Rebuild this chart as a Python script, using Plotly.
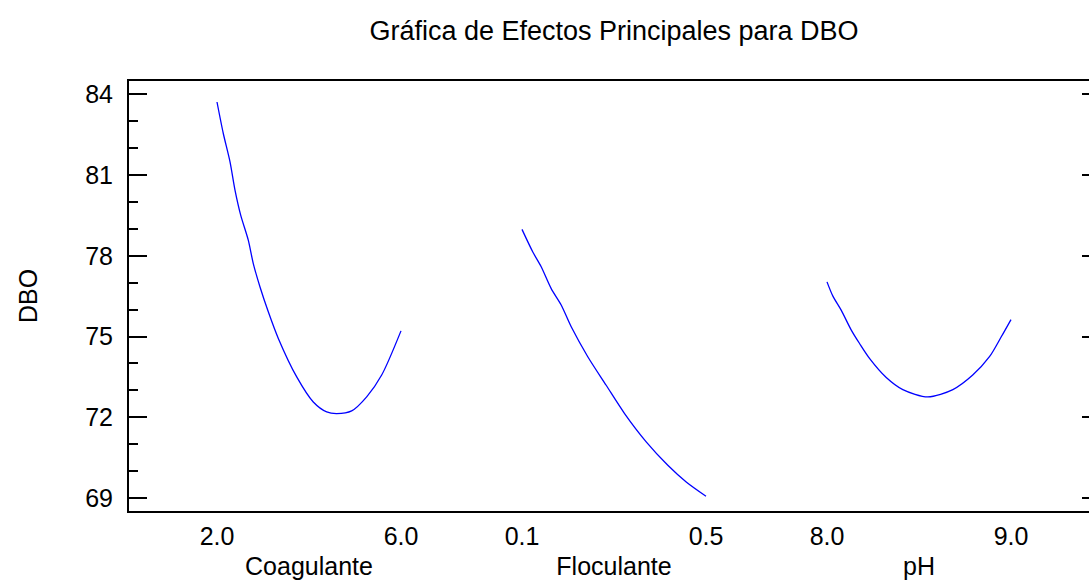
import plotly.graph_objects as go

# ---------------- data ----------------
factor_names = ["Coagulante", "Floculante", "pH"]
factor_ranges = [(2.0, 6.0), (0.1, 0.5), (8.0, 9.0)]
factor_tickvals = [[2.0, 6.0], [0.1, 0.5], [8.0, 9.0]]
factor_ticktext = [["2.0", "6.0"], ["0.1", "0.5"], ["8.0", "9.0"]]

coag_x = [2.0, 2.137, 2.283, 2.391, 2.515, 2.680, 2.789, 2.935, 3.115, 3.333,
          3.733, 4.093, 4.385, 4.602, 4.928, 5.254, 5.580, 6.0]
coag_y = [83.71, 82.54, 81.49, 80.44, 79.51, 78.58, 77.71, 76.84, 75.92, 74.93,
          73.50, 72.57, 72.20, 72.14, 72.24, 72.76, 73.57, 75.21]

floc_x = [0.10, 0.1235, 0.1417, 0.1635, 0.1852, 0.207, 0.243, 0.283, 0.323,
          0.370, 0.417, 0.457, 0.50]
floc_y = [78.98, 78.14, 77.59, 76.78, 76.17, 75.36, 74.25, 73.19, 72.14,
          71.09, 70.22, 69.60, 69.07]

ph_x = [8.0, 8.032, 8.077, 8.132, 8.177, 8.231, 8.322, 8.412, 8.548, 8.684,
        8.792, 8.883, 8.947, 9.0]
ph_y = [77.03, 76.50, 75.98, 75.24, 74.74, 74.19, 73.48, 73.03, 72.76, 73.03,
        73.57, 74.25, 74.99, 75.63]

y_ticks = [69, 72, 75, 78, 81, 84]
y_range = [68.52, 84.49]

title_text = "Gráfica de Efectos Principales para DBO"
y_title = "DBO"

series_x = [coag_x, floc_x, ph_x]
series_y = [coag_y, floc_y, ph_y]

# ---------------- layout geometry ----------------
W, H = 1089, 580
ML, MR, MT, MB = 129, 0, 81, 69
plot_w = W - ML - MR
seg_px = [(217, 401), (522, 706), (827, 1011)]
pad = 30

FONT = "Liberation Sans, Arial, sans-serif"
FS = 25

fig = go.Figure()

# dummy traces so that frame axes get drawn
fig.add_trace(go.Scatter(x=[None], y=[None], xaxis="x", yaxis="y",
                         showlegend=False, hoverinfo="skip"))
fig.add_trace(go.Scatter(x=[None], y=[None], xaxis="x", yaxis="y2",
                         showlegend=False, hoverinfo="skip"))

layout = dict(
    width=W, height=H,
    margin=dict(l=ML, r=MR, t=MT, b=MB, pad=0),
    paper_bgcolor="white", plot_bgcolor="white",
    showlegend=False,
    font=dict(family=FONT, size=FS, color="black"),
    title=dict(text=title_text, x=614 / W, xanchor="center", xref="container",
               y=1 - 31 / H, yanchor="middle", yref="container",
               font=dict(family=FONT, size=27, color="black")),
    xaxis=dict(domain=[0, 1], range=[0, 1], showline=True, mirror=True,
               linecolor="black", linewidth=2, showticklabels=False,
               ticks="", showgrid=False, zeroline=False, anchor="y",
               fixedrange=True),
    yaxis=dict(domain=[0, 1], range=y_range, tickvals=y_ticks,
               ticks="inside", ticklen=18, tickwidth=1.5, tickcolor="black",
               minor=dict(dtick=1, tick0=69, ticks="inside", ticklen=9,
                          tickwidth=1.5, tickcolor="black", showgrid=False),
               showline=True, linecolor="black", linewidth=2, mirror=False,
               showgrid=False, zeroline=False, ticklabelstandoff=9,
               tickfont=dict(family=FONT, size=FS, color="black"),
               title=dict(text=y_title, standoff=40,
                          font=dict(family=FONT, size=FS, color="black")),
               anchor="x"),
    yaxis2=dict(overlaying="y", side="right", anchor="free", position=1,
                range=y_range, tickvals=y_ticks, ticks="inside", ticklen=7,
                tickwidth=1.5, tickcolor="black", showticklabels=False,
                showline=False, showgrid=False, zeroline=False),
)

for i, (name, (lo, hi), tv, tt, xs, ys) in enumerate(
        zip(factor_names, factor_ranges, factor_tickvals, factor_ticktext,
            series_x, series_y)):
    p0, p1 = seg_px[i]
    d0 = (p0 - pad - ML) / plot_w
    d1 = (p1 + pad - ML) / plot_w
    ext = pad / (p1 - p0) * (hi - lo)
    ax = f"xaxis{i + 2}"
    layout[ax] = dict(domain=[d0, d1], range=[lo - ext, hi + ext],
                      tickvals=tv, ticktext=tt, ticks="", showline=False,
                      showgrid=False, zeroline=False, anchor="y",
                      ticklabelstandoff=8,
                      tickfont=dict(family=FONT, size=FS, color="black"),
                      title=dict(text=name, standoff=9,
                                 font=dict(family=FONT, size=FS, color="black")))
    fig.add_trace(go.Scatter(x=xs, y=ys, mode="lines", xaxis=f"x{i + 2}",
                             yaxis="y",
                             line=dict(color="#0000FF", width=1.3,
                                       shape="spline", smoothing=0.8),
                             name=name, showlegend=False))

fig.update_layout(**layout)
fig.write_html("out.html")
